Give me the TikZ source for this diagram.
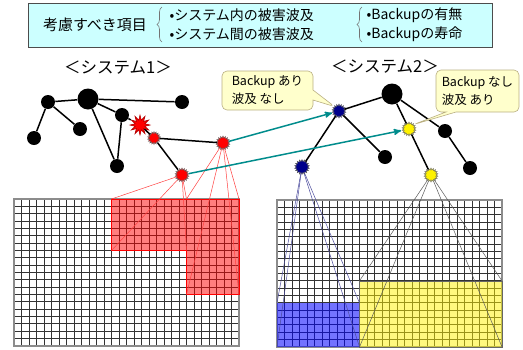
\documentclass[tikz,border=0pt]{standalone}
\usepackage{fontspec}
\setmainfont{Noto Sans CJK JP}
\usetikzlibrary{arrows,shapes.symbols,shapes.callouts,decorations.pathreplacing}

\definecolor{boxfill}{RGB}{204,255,255}
\definecolor{notefill}{RGB}{255,255,204}
\definecolor{noteline}{RGB}{185,175,130}
\definecolor{linkteal}{RGB}{0,140,140}
\definecolor{navynode}{RGB}{0,0,140}

\tikzstyle{hub} = [circle, fill=black, inner sep=0pt, minimum size=14pt]
\tikzstyle{bighub} = [hub, minimum size=21pt]
\tikzstyle{hit} = [starburst, starburst points=18, starburst point height=2pt,
    random starburst=0, draw=black!65, thin, inner sep=0pt, minimum size=14pt]
\tikzstyle{blast} = [starburst, starburst points=12, starburst point height=5pt,
    random starburst=0, fill=red, draw=red!70!black, inner sep=0pt, minimum size=20pt]
\tikzstyle{note} = [rectangle callout, rounded corners=5pt, fill=notefill, draw=noteline,
    callout pointer width=10pt, align=left, inner sep=0pt,
    font=\fontsize{12.5}{18}\selectfont]
\tikzstyle{cell} = [black!80, line width=1pt]

\begin{document}
\begin{tikzpicture}[x=1pt,y=-1pt,semithick]
  \useasboundingbox (0,0) rectangle (523,349);

  % header
  \node (topbox) [draw=black!70, fill=boxfill, minimum width=464pt, minimum height=44pt] at (260,25) {};
  \node (item) [font=\fontsize{15}{18}\selectfont] at (95,25) {考慮すべき項目};
  \node (inner) [anchor=west, align=left, font=\fontsize{14}{19}\selectfont] at (166,24.5)
    {•システム内の被害波及\\•システム間の被害波及};
  \node (backup) [anchor=west, align=left, font=\fontsize{14}{19}\selectfont] at (363,24.5)
    {•Backupの有無\\•Backupの寿命};
  \draw[black!55, decorate, decoration={brace, amplitude=5pt}] (162,42) -- (162,7);
  \draw[black!55, decorate, decoration={brace, amplitude=5pt}] (362,42) -- (362,7);

  \node (title1) [font=\fontsize{16.5}{18}\selectfont] at (118,68) {＜システム1＞};
  \node (title2) [font=\fontsize{16.5}{18}\selectfont] at (385,67) {＜システム2＞};

  % grids
  \begin{scope}[shift={(14,199)}]
    \foreach \i in {0,...,30} \draw[cell] (\i*7.5,0) -- (\i*7.5,147);
    \foreach \j in {0,...,20} \draw[cell] (0,\j*7.35) -- (225,\j*7.35);
    \draw[black!45, line width=1.2pt] (0,0) rectangle (225,147);
  \end{scope}
  \begin{scope}[shift={(277,200)}]
    \foreach \i in {0,...,30} \draw[cell] (\i*7.5,0) -- (\i*7.5,147);
    \foreach \j in {0,...,20} \draw[cell] (0,\j*7.35) -- (225,\j*7.35);
    \draw[black!45, line width=1.2pt] (0,0) rectangle (225,147);
  \end{scope}

  % affected areas
  \coordinate (r1) at (111.5,199);
  \coordinate (r2) at (111.5,250.45);
  \coordinate (r3) at (186.5,250.45);
  \coordinate (r4) at (186.5,199);
  \coordinate (r5) at (186.5,294.55);
  \coordinate (r6) at (239,294.55);
  \coordinate (r7) at (239,199);
  \fill[red, opacity=0.5] (r1) -- (r7) -- (r6) -- (r5) -- (r3) -- (r2) -- cycle;
  \draw[red, thin] (r1) -- (r7) -- (r6) -- (r5) -- (r3) -- (r2) -- cycle;

  \coordinate (u1) at (277,302.9);
  \coordinate (u2) at (359.5,302.9);
  \coordinate (u3) at (359.5,347);
  \coordinate (u4) at (277,347);
  \coordinate (y1) at (359.5,280.85);
  \coordinate (y2) at (502,280.85);
  \coordinate (y3) at (502,347);
  \fill[blue, opacity=0.55] (u1) rectangle (u3);
  \fill[yellow, opacity=0.5] (y1) rectangle (y3);
  \draw[black!60, thin] (y1) rectangle (y3);

  % system 1
  \node[hub]    (a1)  at (48,102)  {};
  \node[bighub] (a2)  at (88,99)   {};
  \node[hub]    (a3)  at (122,115) {};
  \node[hub]    (a4)  at (182,102) {};
  \node[hub]    (a5)  at (34,138)  {};
  \node[hub]    (a6)  at (80,129)  {};
  \node[hub]    (a7)  at (117,166) {};
  \node[blast]  (a8)  at (140,125) {};
  \node[hit, fill=red, minimum size=13pt] (a9) at (154,138) {};
  \node[hit, fill=red] (a10) at (223,143) {};
  \node[hit, fill=red] (a11) at (182,175) {};

  % system 2
  \node[hit, fill=navynode] (b1) at (339,111) {};
  \node[bighub] (b2) at (392,94)  {};
  \node[hit, fill=yellow] (b3) at (409,129) {};
  \node[hub]    (b4) at (445,131) {};
  \node[hub]    (b5) at (385,157) {};
  \node[hub]    (b6) at (470,168) {};
  \node[hit, fill=navynode, minimum size=15pt] (b7) at (302,167) {};
  \node[hit, fill=yellow] (b8) at (431,175) {};

  \path[line width=1.5pt]
    (a1) edge (a2)  (a2) edge (a4)  (a1) edge (a5)  (a1) edge (a6)
    (a2) edge (a7)  (a2) edge (a3)  (a3) edge (a7)  (a3) edge (a8)
    (a8) edge (a9)  (a9) edge (a10) (a9) edge (a11)
    (b1) edge (b2)  (b2) edge (b3)  (b2) edge (b4)  (b4) edge (b6)
    (b3) edge (b8)  (b1) edge (b5)  (b1) edge (b7);

  % projections
  \path[red!75, line width=0.5pt]
    (a11) edge (r1) (a11) edge (r2) (a11) edge (r3) (a11) edge (r4)
    (a10) edge (r4) (a10) edge (r5) (a10) edge (r6) (a10) edge (r7);
  \path[blue!45!black!70, line width=0.5pt]
    (b7) edge (u1) (b7) edge (u2) (b7) edge (u3) (b7) edge (u4);
  \path[black!65, line width=0.5pt]
    (b8) edge (y1) (b8) edge (y2) (b8) edge (y3) (b8) edge (y1 |- y3);

  % spreading between systems
  \path[->, >=stealth', shorten >=1pt, linkteal, line width=1.5pt]
    (a10) edge (b1)
    (a11) edge (b3);

  \node (note1) [note, minimum width=91pt, minimum height=39pt,
    callout absolute pointer={(b1.north west)}] at (267.5,90.5)
    {Backup あり\\波及 なし};
  \node (note2) [note, minimum width=83pt, minimum height=42pt,
    callout absolute pointer={(b3.north east)}] at (477.5,91)
    {Backup なし\\波及 あり};
\end{tikzpicture}
\end{document}
